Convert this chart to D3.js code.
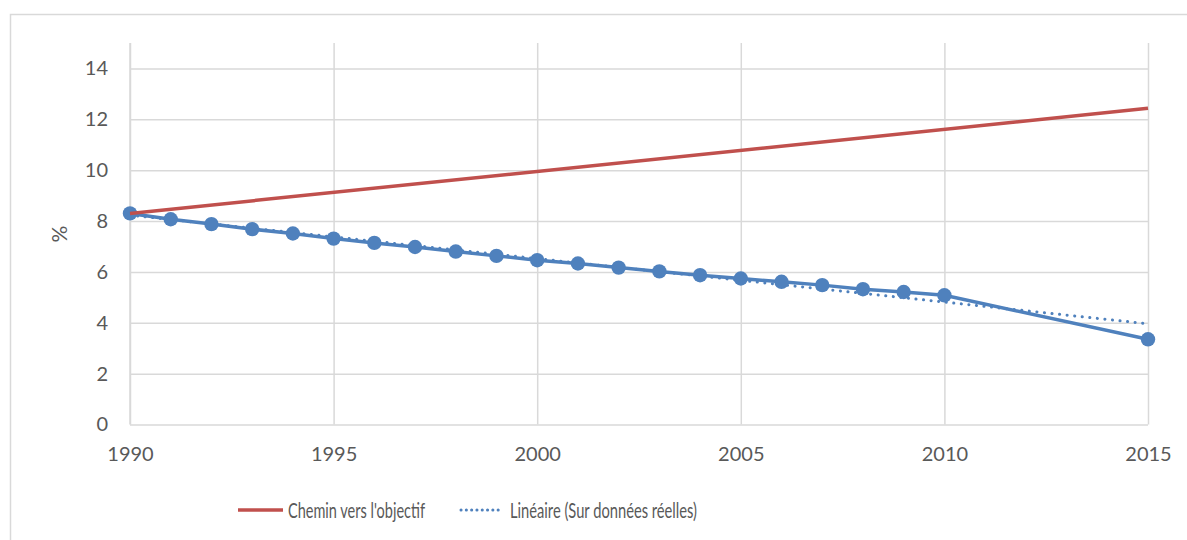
<!DOCTYPE html>
<html>
<head>
<meta charset="utf-8">
<script src="https://cdn.jsdelivr.net/npm/d3@7"></script>
<style>
  html, body { margin: 0; padding: 0; background: #fff; }
  svg { display: block; font-family: Lato, "Liberation Sans", sans-serif; }
</style>
</head>
<body>
<svg id="chart" width="1187" height="540"></svg>
<script>
// ---- data ----
const years = [1990,1991,1992,1993,1994,1995,1996,1997,1998,1999,2000,
               2001,2002,2003,2004,2005,2006,2007,2008,2009,2010,2015];
const actualValues = [8.30,8.07,7.88,7.68,7.51,7.31,7.14,6.98,6.80,6.63,6.46,
                      6.33,6.17,6.02,5.87,5.74,5.61,5.48,5.32,5.21,5.08,3.35];
const goalYears = [1990, 2015];
const goalValues = [8.30, 12.43];
const trendYears = [1990, 2015];
const trendValues = [8.23, 3.96];
const yTicks = [0,2,4,6,8,10,12,14];
const xTicks = [1990,1995,2000,2005,2010,2015];
const legendLabels = ["Chemin vers l'objectif", "Linéaire (Sur données réelles)"];
const yAxisTitle = "%";

// ---- layout ----
const svg = d3.select("#chart");
const gridColor = "#d9d9d9";
const textColor = "#595959";
const blue = "#4f81bd";
const red = "#c0504d";

const x = d3.scaleLinear().domain([1990, 2015]).range([130, 1148]);
const y = d3.scaleLinear().domain([0, 15]).range([424.5, 43]);

// outer chart border
svg.append("rect").attr("x", 10.5).attr("y", 14.5).attr("width", 1200).attr("height", 600)
  .attr("fill", "none").attr("stroke", gridColor).attr("stroke-width", 1.5);

// horizontal gridlines + y labels
const yAxis = d3.axisLeft(y).tickValues(yTicks).tickSize(-(1148 - 130)).tickPadding(22).tickFormat(d3.format("d"));
const gy = svg.append("g").attr("transform", "translate(130,0)").call(yAxis);
gy.select(".domain").remove();
gy.selectAll(".tick line").attr("stroke", gridColor).attr("stroke-width", 1.5);
gy.selectAll(".tick text").attr("fill", textColor).style("font-size", "20px").style("font-family", "Lato");

// vertical gridlines + x labels
const xAxis = d3.axisBottom(x).tickValues(xTicks).tickSize(-(y(0) - y(15))).tickPadding(22).tickFormat(d3.format("d"));
const gx = svg.append("g").attr("transform", `translate(0,${y(0)})`).call(xAxis);
gx.select(".domain").remove();
gx.selectAll(".tick line").attr("stroke", gridColor).attr("stroke-width", 1.5);
gx.selectAll(".tick text").attr("fill", textColor).style("font-size", "20px").style("font-family", "Lato");

// left axis line
svg.append("line").attr("x1", x(1990)).attr("x2", x(1990)).attr("y1", y(15)).attr("y2", y(0))
  .attr("stroke", gridColor).attr("stroke-width", 1.5);

// y title
svg.append("text").attr("transform", `translate(67,234) rotate(-90)`)
  .attr("text-anchor", "middle").attr("fill", textColor)
  .style("font-size", "21px").text(yAxisTitle);

const line = d3.line().x(d => x(d[0])).y(d => y(d[1]));

// actual series
const actual = years.map((yr, i) => [yr, actualValues[i]]);
svg.append("path").datum(actual).attr("d", line).attr("fill", "none")
  .attr("stroke", blue).attr("stroke-width", 3.5).attr("stroke-linejoin", "round");

// trend (dotted)
const trend = trendYears.map((yr, i) => [yr, trendValues[i]]);
svg.append("path").datum(trend).attr("d", line).attr("fill", "none")
  .attr("stroke", blue).attr("stroke-width", 3).attr("stroke-linecap", "round")
  .attr("stroke-dasharray", "0.1 7.5");

// markers
svg.selectAll("circle.pt").data(actual).enter().append("circle").attr("class", "pt")
  .attr("cx", d => x(d[0])).attr("cy", d => y(d[1])).attr("r", 7.2).attr("fill", blue);

// goal path
const goal = goalYears.map((yr, i) => [yr, goalValues[i]]);
svg.append("path").datum(goal).attr("d", line).attr("fill", "none")
  .attr("stroke", red).attr("stroke-width", 3.5);

// legend
const lg = svg.append("g");
lg.append("line").attr("x1", 238).attr("x2", 283).attr("y1", 510).attr("y2", 510)
  .attr("stroke", red).attr("stroke-width", 3.5);
lg.append("text").attr("x", 288).attr("y", 518).attr("fill", textColor)
  .style("font-size", "21px").attr("textLength", 137).attr("lengthAdjust", "spacingAndGlyphs")
  .text(legendLabels[0]);
lg.append("line").attr("x1", 461).attr("x2", 503).attr("y1", 510).attr("y2", 510)
  .attr("stroke", blue).attr("stroke-width", 3).attr("stroke-linecap", "round")
  .attr("stroke-dasharray", "0.1 5.2");
lg.append("text").attr("x", 510).attr("y", 518).attr("fill", textColor)
  .style("font-size", "21px").attr("textLength", 187).attr("lengthAdjust", "spacingAndGlyphs")
  .text(legendLabels[1]);
</script>
</body>
</html>
